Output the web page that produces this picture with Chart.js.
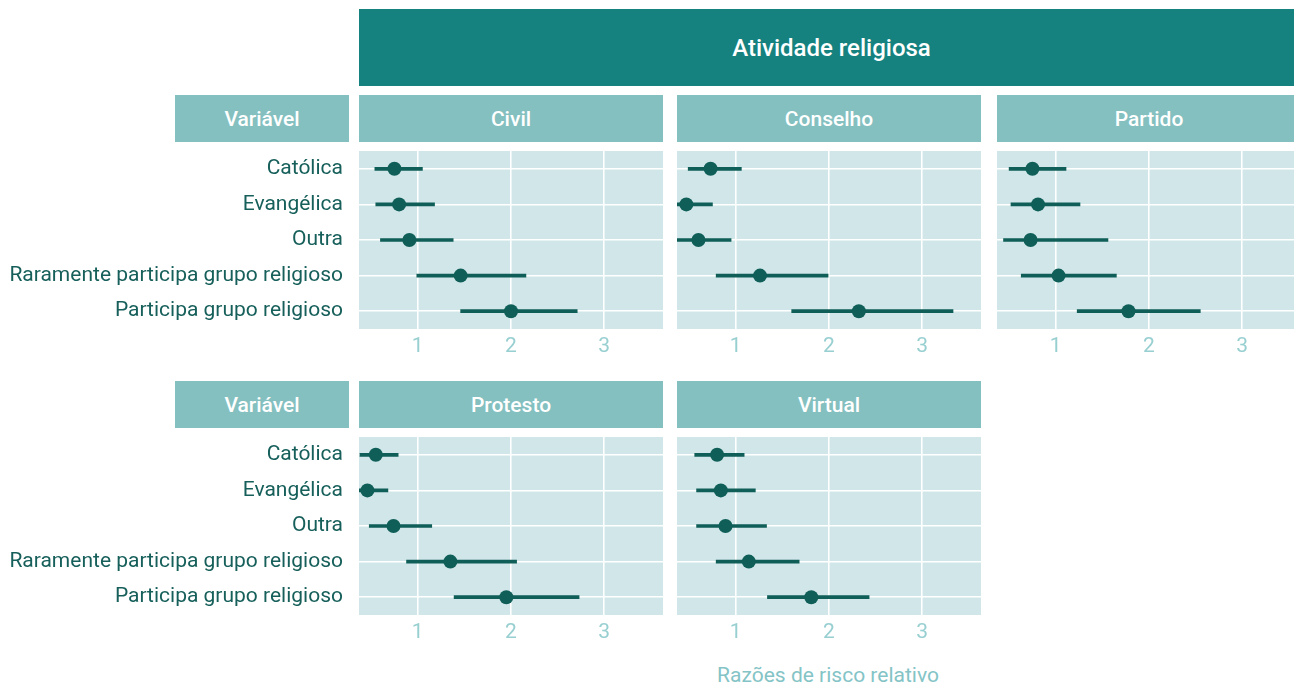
<!DOCTYPE html>
<html lang="pt">
<head>
<meta charset="utf-8">
<title>Atividade religiosa</title>
<script src="https://cdn.jsdelivr.net/npm/chart.js@4.4.1/dist/chart.umd.min.js"></script>
<style>
  html, body { margin: 0; padding: 0; background: #ffffff; }
  body { position: relative; width: 1294px; height: 686px; overflow: hidden; font-family: Roboto, "Noto Sans", sans-serif; }
  .box { position: absolute; display: flex; align-items: center; justify-content: center; color: #ffffff; box-sizing: border-box; }
  .banner { background: #158280; font-size: 24px; font-weight: 500; }
  .strip { background: #84c0c0; font-size: 21px; font-weight: 500; }
  .panel { position: absolute; }
  .xtitle { position: absolute; color: #84c4c6; font-size: 21px; transform: translateX(-50%); white-space: nowrap; }
</style>
</head>
<body>
<script>
// Row labels (top to bottom) and x-axis ticks
const categories = ['Católica', 'Evangélica', 'Outra', 'Raramente participa grupo religioso', 'Participa grupo religioso'];
const xTicks = [1, 2, 3];
const xMin = 0.37;
const xMax = 3.63;

// Relative risk ratio (point) with lower / upper interval bounds per outcome
const civilPoint = [0.75, 0.80, 0.91, 1.46, 2.00];
const civilLow   = [0.54, 0.55, 0.60, 0.99, 1.46];
const civilHigh  = [1.05, 1.18, 1.38, 2.16, 2.71];

const conselhoPoint = [0.73, 0.47, 0.60, 1.26, 2.32];
const conselhoLow   = [0.49, 0.30, 0.37, 0.79, 1.60];
const conselhoHigh  = [1.06, 0.75, 0.95, 1.99, 3.33];

const partidoPoint = [0.75, 0.81, 0.73, 1.03, 1.78];
const partidoLow   = [0.50, 0.52, 0.44, 0.63, 1.23];
const partidoHigh  = [1.11, 1.26, 1.56, 1.65, 2.55];

const protestoPoint = [0.55, 0.46, 0.74, 1.35, 1.95];
const protestoLow   = [0.38, 0.30, 0.48, 0.88, 1.39];
const protestoHigh  = [0.79, 0.68, 1.15, 2.06, 2.73];

const virtualPoint = [0.80, 0.84, 0.89, 1.14, 1.81];
const virtualLow   = [0.56, 0.58, 0.58, 0.79, 1.34];
const virtualHigh  = [1.09, 1.21, 1.33, 1.68, 2.43];

const panelTitle = 'Atividade religiosa';
const rowHeader = 'Variável';
const xTitle = 'Razões de risco relativo';

const INK = '#0f5e58';
const LABEL = '#165f5a';
const TICK = '#98cfd1';
const PANEL_BG = '#d0e6e9';

function addBox(cls, text, left, top, width, height) {
  const d = document.createElement('div');
  d.className = 'box ' + cls;
  d.style.left = left + 'px';
  d.style.top = top + 'px';
  d.style.width = width + 'px';
  d.style.height = height + 'px';
  d.textContent = text;
  document.body.appendChild(d);
}

// Panel background painted under the grid
const panelBackground = {
  id: 'panelBackground',
  beforeDraw(chart) {
    const a = chart.chartArea;
    const ctx = chart.ctx;
    ctx.save();
    ctx.fillStyle = PANEL_BG;
    ctx.fillRect(a.left, a.top, a.right - a.left, a.bottom - a.top);
    ctx.restore();
  }
};

const PLOT_H = 178;
const AXIS_H = 40;

function noPadding(s) {
  s.paddingTop = 0;
  s.paddingBottom = 0;
  s.paddingLeft = 0;
  s.paddingRight = 0;
}

function addPanel(left, top, plotW, labelW, point, low, high) {
  const c = document.createElement('canvas');
  const w = labelW + plotW;
  const h = PLOT_H + AXIS_H;
  c.width = w; c.height = h;
  c.className = 'panel';
  c.style.left = (left - labelW) + 'px';
  c.style.top = top + 'px';
  c.style.width = w + 'px';
  c.style.height = h + 'px';
  document.body.appendChild(c);

  const ranges = low.map((v, i) => [v, high[i]]);

  new Chart(c, {
    type: 'bar',
    data: {
      labels: categories,
      datasets: [
        {
          type: 'line',
          indexAxis: 'y',
          data: point,
          showLine: false,
          pointRadius: 7,
          pointHoverRadius: 7,
          pointBackgroundColor: INK,
          pointBorderColor: INK,
          pointBorderWidth: 0,
          order: 0
        },
        {
          type: 'bar',
          indexAxis: 'y',
          data: ranges,
          backgroundColor: INK,
          borderWidth: 0,
          barThickness: 3,
          borderSkipped: false,
          clip: 0,
          order: 1
        }
      ]
    },
    options: {
      indexAxis: 'y',
      responsive: false,
      animation: false,
      devicePixelRatio: 1,
      layout: { padding: 0, autoPadding: false },
      plugins: { legend: { display: false }, tooltip: { enabled: false } },
      scales: {
        x: {
          type: 'linear',
          min: xMin,
          max: xMax,
          afterBuildTicks: s => { s.ticks = xTicks.map(v => ({ value: v })); },
          afterFit: s => { s.height = AXIS_H; noPadding(s); },
          grid: { color: '#ffffff', lineWidth: 1.6, drawTicks: false },
          border: { display: false },
          ticks: {
            color: TICK,
            padding: 5,
            font: { family: 'Roboto', size: 21 },
            callback: v => String(v)
          }
        },
        y: {
          type: 'category',
          offset: true,
          afterFit: s => { s.width = labelW; noPadding(s); },
          grid: { color: '#ffffff', lineWidth: 1.6, offset: false, drawTicks: false },
          border: { display: false },
          ticks: {
            display: labelW > 0,
            color: LABEL,
            padding: 16,
            font: { family: 'Roboto', size: 21 }
          }
        }
      }
    },
    plugins: [panelBackground]
  });
}

// Column and row geometry
const colLeft = [359, 677, 997];
const plotW = 304;
const row1Plot = 151, row2Plot = 437;

addBox('banner', panelTitle, 359, 9, 1294 - 359 + 10, 77);

addBox('strip', rowHeader, 175, 95, 174, 47);
addBox('strip', 'Civil', colLeft[0], 95, plotW, 47);
addBox('strip', 'Conselho', colLeft[1], 95, plotW, 47);
addBox('strip', 'Partido', colLeft[2], 95, plotW, 47);

addBox('strip', rowHeader, 175, 381, 174, 47);
addBox('strip', 'Protesto', colLeft[0], 381, plotW, 47);
addBox('strip', 'Virtual', colLeft[1], 381, plotW, 47);

addPanel(colLeft[0], row1Plot, plotW, 359, civilPoint, civilLow, civilHigh);
addPanel(colLeft[1], row1Plot, plotW, 0, conselhoPoint, conselhoLow, conselhoHigh);
addPanel(colLeft[2], row1Plot, plotW, 0, partidoPoint, partidoLow, partidoHigh);
addPanel(colLeft[0], row2Plot, plotW, 359, protestoPoint, protestoLow, protestoHigh);
addPanel(colLeft[1], row2Plot, plotW, 0, virtualPoint, virtualLow, virtualHigh);

const t = document.createElement('div');
t.className = 'xtitle';
t.style.left = '828px';
t.style.top = '663px';
t.textContent = xTitle;
document.body.appendChild(t);
</script>
</body>
</html>
